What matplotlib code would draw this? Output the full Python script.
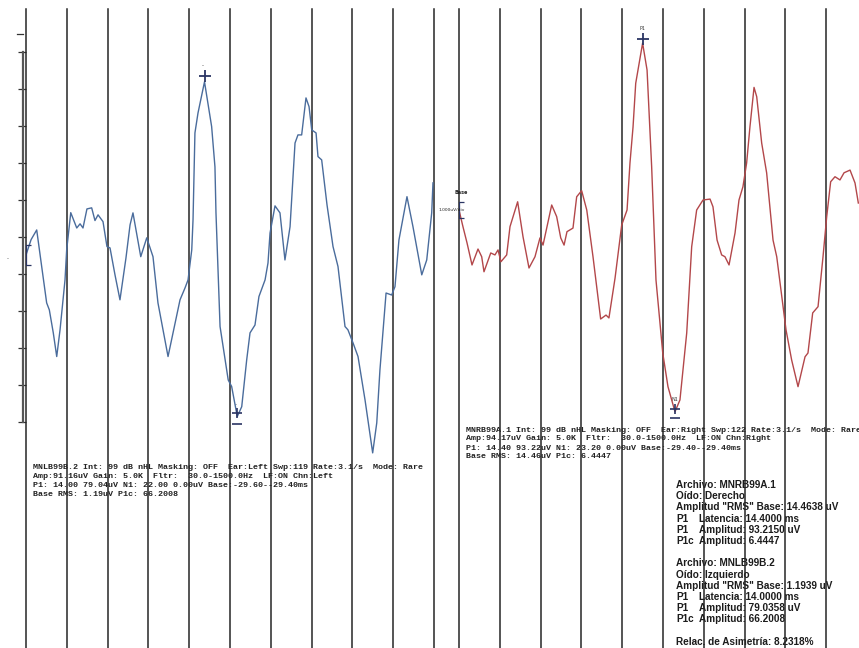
import numpy as np
import matplotlib
matplotlib.use("Agg")
import matplotlib.pyplot as plt

# ── Traces (latency in ms, amplitude in uV) ───────────────────────────────────

LEFT_T = [0.0, 0.4, 0.84, 1.23, 1.62, 1.83, 2.14, 2.41, 2.67, 3.06, 3.19, 3.51,
          3.98, 4.24, 4.47, 4.78, 5.15, 5.41, 5.65, 6.04, 6.35, 6.59, 6.98, 7.37,
          7.84, 8.16, 8.39, 9.00, 9.47, 9.96, 10.35, 11.14, 12.08, 12.47, 12.71,
          13.0, 13.10, 13.25, 13.49, 14.0, 14.56, 14.82, 14.90, 15.22, 15.86,
          16.13, 16.57, 16.92, 17.31, 17.57, 17.96, 18.27, 18.75, 18.98, 19.14,
          19.53, 19.92, 20.31, 20.71, 21.10, 21.33, 21.62, 21.96, 22.20, 22.41,
          22.75, 22.90, 23.19, 23.61, 24.08, 24.47, 25.02, 25.25, 25.65, 26.04,
          26.59, 27.19, 27.51, 27.76, 28.24, 28.68, 28.94, 29.25, 29.88, 30.35,
          31.04, 31.43, 31.82, 31.92]
LEFT_UV = [0, 7, 11.4, -5.3, -21.9, -25.1, -35.6, -46.4, -34.2, -11.4, 2.3, 19.3,
           12.3, 14.2, 12.3, 21.0, 21.5, 15.7, 18.3, 15.2, 3.8, 3.2, -9.1, -20.5,
           -1.4, 13.7, 19.2, -0.8, 7.8, -0.8, -21.9, -46.4, -20.5, -15.1, -11.4,
           2.3, 16.0, 55.7, 64.8, 79.04, 58.6, 40.2, 19.2, -32.7, -57.1,
           -60.1, -73.8, -69.3, -47.9, -35.6, -32.0, -19.0, -11.4, -3.7, 10.0,
           22.4, 19.2, -2.3, 12.9, 51.1, 54.8, 54.8, 71.7, 67.7, 57.1,
           55.7, 44.9, 43.4, 22.8, 3.8, -5.3, -32.7, -34.2, -40.2, -46.4,
           -66.2, -90.4, -76.7, -52.5, -17.4, -18.3, -14.5, 6.8, 26.6, 12.9,
           -9.1, -2.3, 19.2, 32.9]

RIGHT_T = [0.0, 0.31, 0.63, 1.02, 1.49, 1.78, 1.96, 2.49, 2.82, 3.06, 3.29, 3.74,
           4.0, 4.60, 5.02, 5.49, 5.96, 6.35, 6.59, 7.27, 7.66, 7.98, 8.24, 8.47,
           8.94, 9.23, 9.62, 10.02, 10.51, 11.11, 11.53, 11.76, 12.24, 12.76,
           13.18, 13.41, 13.65, 13.86, 14.4, 14.75, 15.11, 15.45, 15.98, 16.39,
           16.94, 17.33, 17.86, 18.25, 18.64, 19.14, 19.69, 19.92, 20.24, 20.60,
           20.86, 21.18, 21.65, 21.96, 22.27, 22.56, 22.82, 23.14, 23.35, 23.74,
           24.13, 24.63, 24.92, 25.65, 26.09, 26.59, 27.14, 27.37, 27.74, 28.16,
           28.55, 28.84, 29.15, 29.49, 29.88, 30.20, 30.67, 31.06, 31.32]
RIGHT_UV = [0, -9.3, -18.4, -30.7, -21.8, -26.1, -34.5, -24.0, -25.1, -22.3, -28.9,
            -25.1, -9.3, 4.6, -14.9, -32.4, -26.1, -15.6, -19.6, 2.8, -3.7, -15.6,
            -19.6, -12.1, -10.1, 7.4, 10.8, 0, -26.1, -60.9, -58.7, -60.3, -38.0,
            -8.4, 0, 26.3, 46.4, 70.8, 93.22, 78.2, 24.2, -39.1, -79.9, -98.7,
            -112.7, -106.1, -68.7, -20.5, 0, 5.6, 6.1, 1.8, -16.8, -25.1,
            -26.1, -30.7, -12.8, 5.6, 13.0, 26.3, 46.5, 68.5, 63.3, 37.4,
            20.7, -16.8, -26.1, -67.0, -83.8, -98.7, -82.0, -79.9, -57.5, -54.0,
            -26.1, -3.7, 15.8, 18.6, 16.8, 20.8, 22.3, 15.1, 3.9]

LEFT_P1 = (14.00, 79.04)
RIGHT_P1 = (14.40, 93.22)
N1_WINDOW = (14.5, 20.0)   # ms, where the trough cursor is placed

SWEEP_MS = 32.0
N_DIV = 10
CAL_TOP = 92.7      # uV at top tick of the calibration bar
CAL_STEP = 16.9     # uV per tick
N_CAL = 11

LEFT_INFO = [
    "MNLB99B.2 Int: 99 dB nHL Masking: OFF  Ear:Left Swp:119 Rate:3.1/s  Mode: Rare",
    "Amp:91.16uV Gain: 5.0K  Fltr:  30.0-1500.0Hz  LF:ON Chn:Left",
    "P1: 14.00 79.04uV N1: 22.00 0.00uV Base:-29.60--29.40ms",
    "Base RMS: 1.19uV P1c: 66.2008",
]
RIGHT_INFO = [
    "MNRB99A.1 Int: 99 dB nHL Masking: OFF  Ear:Right Swp:122 Rate:3.1/s  Mode: Rare",
    "Amp:94.17uV Gain: 5.0K  Fltr:  30.0-1500.0Hz  LF:ON Chn:Right",
    "P1: 14.40 93.22uV N1: 23.20 0.00uV Base:-29.40--29.40ms",
    "Base RMS: 14.46uV P1c: 6.4447",
]

SUMMARY = [
    ("", "Archivo: MNRB99A.1"),
    ("", "Oído: Derecho"),
    ("", "Amplitud \"RMS\" Base: 14.4638 uV"),
    ("P1", "Latencia: 14.4000 ms"),
    ("P1", "Amplitud: 93.2150 uV"),
    ("P1c", "Amplitud: 6.4447"),
    None,
    ("", "Archivo: MNLB99B.2"),
    ("", "Oído: Izquierdo"),
    ("", "Amplitud \"RMS\" Base: 1.1939 uV"),
    ("P1", "Latencia: 14.0000 ms"),
    ("P1", "Amplitud: 79.0358 uV"),
    ("P1c", "Amplitud: 66.2008"),
    None,
    ("", "Relac. de Asimetría: 8.2318%"),
]

# ── Figure ────────────────────────────────────────────────────────────────────

W, H = 859, 648
fig = plt.figure(figsize=(W / 100, H / 100), dpi=100, facecolor="white")

GRID_COLOR = "#262626"
MARK_COLOR = "#2b3563"


def px(x, y):
    return x / W, 1 - y / H


def panel(x_left, ylim):
    ax = fig.add_axes([x_left / W, 0, 408 / W, 639 / H])
    ax.set_facecolor("none")
    ax.set_xlim(0, SWEEP_MS)
    ax.set_ylim(*ylim)
    for s in ax.spines.values():
        s.set_visible(False)
    ax.set_xticks([])
    ax.set_yticks([])
    for k in range(N_DIV + 1):
        ax.axvline(k * SWEEP_MS / N_DIV, color=GRID_COLOR, lw=1.1, zorder=3,
                   clip_on=False)
    return ax


def trough_index(t, uv):
    t = np.asarray(t)
    uv = np.asarray(uv, dtype=float)
    inside = (t >= N1_WINDOW[0]) & (t <= N1_WINDOW[1])
    return int(np.argmin(np.where(inside, uv, np.inf)))


ax_l = panel(26, (-179.5, 112.3))
ax_r = panel(459, (-244.7, 112.3))

# traces
ax_l.plot(LEFT_T, LEFT_UV, color="#4a6c9c", lw=1.0, zorder=4)
ax_r.plot(RIGHT_T, RIGHT_UV, color="#b3474a", lw=1.0, zorder=4)

# calibration bar on the left panel
cal = [CAL_TOP - k * CAL_STEP for k in range(N_CAL)]
ax_l.set_yticks(cal)
ax_l.tick_params(axis="y", direction="out", length=5.5, width=0.9,
                 color="#333333", labelleft=False)
ax_l.plot([-0.26, -0.26], [cal[0], cal[-1]], color="#555555", lw=1.6,
          clip_on=False, zorder=4)
ax_l.plot([-0.68, -0.26], [cal[0] + 8.2, cal[0] + 8.2], color="#333333",
          lw=0.9, clip_on=False)

# base markers
for ax in (ax_l, ax_r):
    ax.errorbar([0.02], [0], yerr=[[4.6], [4.6]], fmt="none", ecolor=MARK_COLOR,
                elinewidth=0.9, capsize=3.5, capthick=0.9, zorder=5)

# peak / trough markers
for ax, p1, t, uv in ((ax_l, LEFT_P1, LEFT_T, LEFT_UV),
                      (ax_r, RIGHT_P1, RIGHT_T, RIGHT_UV)):
    ax.plot([p1[0]], [p1[1] + 2.5], marker="+", ms=8, mew=1.3,
            color=MARK_COLOR, zorder=5)
    i = trough_index(t, uv)
    ax.plot([t[i]], [uv[i] + 1.5], marker="+", ms=7, mew=1.2,
            color=MARK_COLOR, zorder=5)
    ax.plot([t[i]], [uv[i] - 3.5], marker="_", ms=7, mew=1.2,
            color=MARK_COLOR, zorder=5)

ax_r.annotate("P1", (RIGHT_P1[0], RIGHT_P1[1]), xytext=(0, 9),
              textcoords="offset points", ha="center", va="bottom",
              fontsize=3.5, color="#333333")
i_r = trough_index(RIGHT_T, RIGHT_UV)
ax_r.annotate("N1", (RIGHT_T[i_r], RIGHT_UV[i_r]), xytext=(0, 7),
              textcoords="offset points", ha="center", va="bottom",
              fontsize=3.5, color="#333333")
i_l = trough_index(LEFT_T, LEFT_UV)
ax_l.annotate("-", (LEFT_T[i_l], LEFT_UV[i_l]), xytext=(-1, 7),
              textcoords="offset points", ha="center", va="bottom",
              fontsize=4, color="#333333")
ax_l.annotate("-", (LEFT_P1[0], LEFT_P1[1]), xytext=(-1, 10),
              textcoords="offset points", ha="center", va="bottom",
              fontsize=4, color="#333333")
ax_r.text(0.15, 8.5, "Base", fontsize=3.5, fontweight="bold",
          ha="center", va="bottom", color="#222222")
ax_r.text(-0.6, 0, "1.000uV/div", fontsize=3.2, ha="center", va="center",
          color="#222222", zorder=6)
fig.text(*px(8, 259), "-", fontsize=4, color="#444444", ha="center", va="center")

# info blocks under each trace
mono = dict(family="Liberation Mono", fontweight="bold", fontsize=6.0,
            color="#222222", ha="left", va="center", zorder=-1)
for k, line in enumerate(LEFT_INFO):
    fig.text(*px(33, 467.5 + 9 * k), line, **mono)
for k, line in enumerate(RIGHT_INFO):
    fig.text(*px(466.5, 430 + 9 * k), line, **mono)

# asymmetry summary
sans = dict(family="Liberation Sans", fontweight="bold", fontsize=7.2,
            color="#1c1c1c", ha="left", va="center", zorder=-1)
y = 485
for row in SUMMARY:
    if row is None:
        y += 11.2
        continue
    tag, body = row
    if tag:
        fig.text(*px(676.5, y), tag, **sans)
        fig.text(*px(699, y), body, **sans)
    else:
        fig.text(*px(676.5, y), body, **sans)
    y += 11.2

fig.savefig("out.png", dpi=100, facecolor="white")
